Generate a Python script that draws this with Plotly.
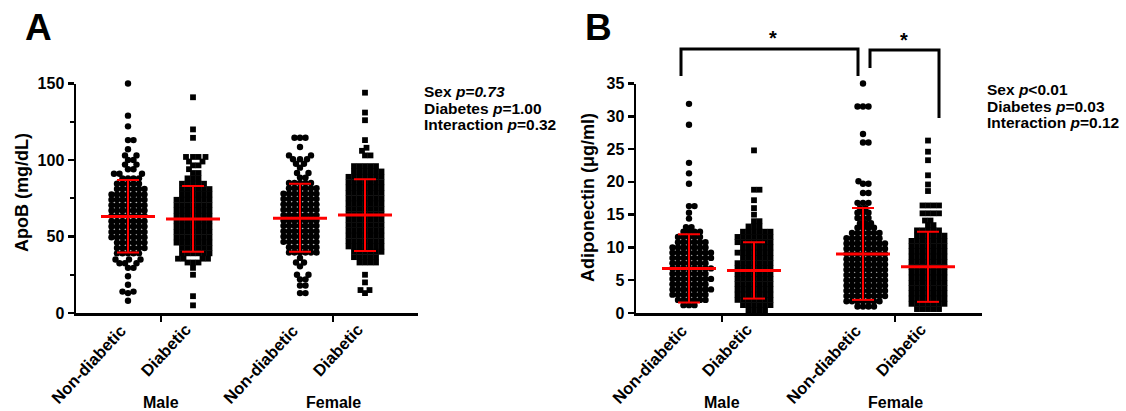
import plotly.graph_objects as go

W, H = 1126, 411
FONT = "Liberation Sans, Arial, sans-serif"

# ------------------------------------------------------------------ data
subgroups = ["Non-diabetic", "Diabetic", "Non-diabetic", "Diabetic"]
sexes = ["Male", "Female"]

# Panel A: ApoB (mg/dL) -- values (levels) and number of subjects at each level
apob_m_nd_levels = [150, 129, 122, 113, 107, 103, 100, 97, 94, 91, 88, 84.5, 81, 77.5, 74, 70.5, 67, 63.5, 60, 56.5,
                    53, 49.5, 46, 42.5, 39, 35, 32.5, 29.5, 24, 18.5, 14, 13, 8]
apob_m_nd_counts = [1, 1, 1, 2, 1, 2, 2, 2, 2, 3, 4, 5, 6, 7, 7, 7, 7, 7, 7, 7,
                    7, 7, 6, 6, 5, 3, 3, 2, 1, 1, 2, 1, 1]
apob_m_d_levels = [141, 120, 114.5, 102, 99, 96.5, 94, 91.5, 88, 84.5, 81, 77.5, 74, 70.5, 67, 63.5, 60, 56.5, 53, 49.5,
                   46, 42.5, 39, 35.5, 33, 29.5, 25, 11, 5]
apob_m_d_counts = [1, 1, 1, 4, 2, 2, 1, 2, 3, 5, 6, 6, 7, 7, 7, 7, 7, 7, 7, 7,
                   7, 6, 6, 4, 3, 1, 1, 1, 1]
apob_f_nd_levels = [114.5, 108.5, 103, 100.5, 97.5, 95, 91.5, 88.5, 85, 81.5, 78, 74.5, 71, 67.5, 64, 60.5, 57, 53.5, 50, 46.5,
                    43, 39.5, 36, 33, 30.5, 25, 22, 18, 13]
apob_f_nd_counts = [3, 1, 2, 3, 2, 1, 2, 2, 5, 6, 7, 7, 7, 7, 7, 7, 7, 7, 7, 7,
                    6, 6, 1, 2, 1, 2, 2, 2, 2]
apob_f_d_levels = [144, 131, 126, 113, 108, 106, 103, 96, 92.5, 89, 85.5, 82, 78.5, 75, 71.5, 68, 64.5, 61, 57.5, 54,
                   50.5, 47, 43.5, 40, 36.5, 33, 25, 20, 15, 13]
apob_f_d_counts = [1, 1, 1, 1, 1, 1, 2, 5, 6, 7, 7, 7, 7, 7, 7, 7, 7, 7, 7, 7,
                   7, 7, 7, 6, 5, 4, 1, 1, 2, 1]
apob_mean = [63, 61.5, 62, 64]
apob_sd_low = [39.5, 40, 40, 40.5]
apob_sd_high = [87, 83, 84.5, 87.5]

# Panel B: Adiponectin (ug/ml)
adipo_m_nd_levels = [31.9, 28.7, 22.9, 21.3, 19.7, 16.3, 15.3, 14.4, 13.1, 12.4, 11.6, 10.8, 10.0, 9.2, 8.4, 7.6, 6.8, 6.0,
                     5.2, 4.4, 3.6, 2.8, 2.0, 1.2]
adipo_m_nd_counts = [1, 1, 1, 1, 1, 2, 1, 1, 2, 4, 5, 6, 7, 8, 8, 7, 8, 7,
                     8, 7, 8, 7, 6, 3]
adipo_m_d_levels = [24.8, 18.8, 17.2, 16.0, 15.0, 14.0, 13.2, 12.4, 11.6, 10.8, 10.0, 9.2, 8.4, 7.6, 6.8, 6.0, 5.2, 4.4,
                    3.6, 2.8, 2.0, 1.2, 0.4]
adipo_m_d_counts = [1, 2, 1, 1, 1, 2, 3, 6, 7, 7, 6, 7, 6, 7, 7, 7, 7, 7,
                    7, 7, 7, 6, 4]
adipo_f_nd_levels = [35, 31.5, 27.3, 26, 20.1, 19.7, 18.3, 16.8, 16.0, 15.3, 14.5, 13.7, 13.0, 12.2, 11.4, 10.6, 9.8, 9.0,
                     8.2, 7.4, 6.6, 5.8, 5.0, 4.2, 3.4, 2.6, 1.8, 1.0]
adipo_f_nd_counts = [1, 3, 1, 2, 1, 2, 2, 3, 2, 3, 3, 3, 4, 6, 7, 8, 8, 8,
                     8, 8, 8, 8, 8, 8, 8, 8, 7, 4]
adipo_f_d_levels = [26.3, 24.6, 23.3, 21.0, 19.6, 18.6, 16.4, 15.2, 14.1, 13.4, 12.6, 11.8, 11.0, 10.2, 9.4, 8.6, 7.8, 7.0,
                    6.2, 5.4, 4.6, 3.8, 3.0, 2.2, 1.4, 0.6]
adipo_f_d_counts = [1, 1, 1, 1, 1, 1, 4, 4, 2, 2, 5, 6, 7, 7, 7, 7, 7, 7,
                    7, 7, 7, 7, 7, 7, 7, 5]
adipo_mean = [6.8, 6.5, 9.0, 7.05]
adipo_sd_low = [1.6, 2.2, 2.0, 1.7]
adipo_sd_high = [12.0, 10.8, 16.0, 12.4]

pvals_a = ["Sex <i>p=0.73</i>", "Diabetes <i>p</i>=1.00", "Interaction <i>p</i>=0.32"]
pvals_b = ["Sex <i>p</i>&lt;0.01", "Diabetes <i>p</i>=0.03", "Interaction <i>p</i>=0.12"]

# ------------------------------------------------------------------ layout constants (pixels)
A_X0, A_X1 = 76, 418
B_X0, B_X1 = 636, 982
Y_BOT, Y_TOP = 313, 83.5
A_POS = [52, 117, 224, 289]      # group centres, x-units = px from axis start
B_POS = [53, 118, 227, 292]
A_TICKS = [85, 257]
B_TICKS = [86, 259]
A_PXU = (Y_BOT - Y_TOP) / 150.0
B_PXU = (Y_BOT - Y_TOP) / 35.0


def expand(levels, counts):
    vals = []
    for v, n in zip(levels, counts):
        vals += [v] * n
    return vals


def swarm(values, center, pxu, d):
    """greedy beeswarm: offsets in px (x-units are px)"""
    order = sorted(range(len(values)), key=lambda i: values[i])
    placed = []
    xs = [0.0] * len(values)
    cands = [0.0]
    k = 1
    while k < 200:
        cands += [k * 0.5, -k * 0.5]
        k += 1
    for i in order:
        y = values[i] * pxu
        for c in cands:
            ok = True
            for (px_, py_) in placed:
                if abs(py_ - y) < d and (px_ - c) ** 2 + (py_ - y) ** 2 < d * d:
                    ok = False
                    break
            if ok:
                xs[i] = center + c
                placed.append((c, y))
                break
    return xs


fig = go.Figure()

panels = [
    ("x", "y", A_POS, A_PXU, [
        (apob_m_nd_levels, apob_m_nd_counts, "circle"),
        (apob_m_d_levels, apob_m_d_counts, "square"),
        (apob_f_nd_levels, apob_f_nd_counts, "circle"),
        (apob_f_d_levels, apob_f_d_counts, "square")],
     apob_mean, apob_sd_low, apob_sd_high, 5.3),
    ("x2", "y2", B_POS, B_PXU, [
        (adipo_m_nd_levels, adipo_m_nd_counts, "circle"),
        (adipo_m_d_levels, adipo_m_d_counts, "square"),
        (adipo_f_nd_levels, adipo_f_nd_counts, "circle"),
        (adipo_f_d_levels, adipo_f_d_counts, "square")],
     adipo_mean, adipo_sd_low, adipo_sd_high, 5.2),
]

for xa, ya, pos, pxu, grps, means, lo, hi, dd in panels:
    for (lv, ct, sym), c in zip(grps, pos):
        vals = expand(lv, ct)
        xs = swarm(vals, c, pxu, dd)
        fig.add_trace(go.Scatter(
            x=xs, y=vals, mode="markers", xaxis=xa, yaxis=ya, cliponaxis=False,
            marker=dict(symbol=sym, size=6.4 if sym == "circle" else 5.8, color="black", line=dict(width=0)),
            showlegend=False, hoverinfo="y"))
    # mean lines
    mx, my = [], []
    for c, m in zip(pos, means):
        mx += [c - 27, c + 27, None]
        my += [m, m, None]
    fig.add_trace(go.Scatter(x=mx, y=my, mode="lines", xaxis=xa, yaxis=ya,
                             line=dict(color="#ff0000", width=3), showlegend=False, hoverinfo="skip"))
    # SD bars
    sx, sy = [], []
    for c, l, h in zip(pos, lo, hi):
        sx += [c, c, None, c - 11, c + 11, None, c - 11, c + 11, None]
        sy += [l, h, None, l, l, None, h, h, None]
    fig.add_trace(go.Scatter(x=sx, y=sy, mode="lines", xaxis=xa, yaxis=ya,
                             line=dict(color="#ff0000", width=2), showlegend=False, hoverinfo="skip"))

tickfont = dict(family=FONT, size=16, color="black", weight="bold")
ydom = [1 - Y_BOT / H, 1 - Y_TOP / H]

common_x = dict(showline=True, linewidth=2.5, linecolor="black", ticks="outside", ticklen=6, tickwidth=2.5,
                tickcolor="black", showticklabels=False, showgrid=False, zeroline=False, fixedrange=True,
                automargin=False)
common_y = dict(showline=True, linewidth=2.5, linecolor="black", ticks="outside", ticklen=6, tickwidth=2.5,
                tickcolor="black", showgrid=False, zeroline=False, tickfont=tickfont, fixedrange=True,
                automargin=False)

fig.update_layout(
    template="none",
    width=W, height=H, margin=dict(l=0, r=0, t=0, b=0, autoexpand=False),
    paper_bgcolor="white", plot_bgcolor="white", showlegend=False,
    xaxis=dict(domain=[A_X0 / W, A_X1 / W], range=[0, A_X1 - A_X0], tickvals=A_TICKS, anchor="y", **common_x),
    yaxis=dict(domain=ydom, range=[0, 150], tickvals=[0, 50, 100, 150], anchor="x",
               minor=dict(tickvals=[25, 75, 125], ticks="outside", ticklen=4, tickwidth=2, tickcolor="black"),
               **common_y),
    xaxis2=dict(domain=[B_X0 / W, B_X1 / W], range=[0, B_X1 - B_X0], tickvals=B_TICKS, anchor="y2", **common_x),
    yaxis2=dict(domain=ydom, range=[0, 35], tickvals=[0, 5, 10, 15, 20, 25, 30, 35], anchor="x2", **common_y),
)


def px(x):
    return x / W


def py(y):
    return 1 - y / H


ann = []
bold = dict(family=FONT, color="black", weight="bold")

# panel letters
ann.append(dict(x=px(38), y=py(27), xref="paper", yref="paper", text="A", showarrow=False,
                font=dict(size=37, **bold), xanchor="center", yanchor="middle"))
ann.append(dict(x=px(598), y=py(27), xref="paper", yref="paper", text="B", showarrow=False,
                font=dict(size=37, **bold), xanchor="center", yanchor="middle"))

# y-axis titles
ann.append(dict(x=px(22), y=py(193), xref="paper", yref="paper", text="ApoB (mg/dL)", textangle=-90,
                showarrow=False, font=dict(size=18, **bold), xanchor="center", yanchor="middle"))
ann.append(dict(x=px(588), y=py(198), xref="paper", yref="paper", text="Adiponectin (μg/ml)", textangle=-90,
                showarrow=False, font=dict(size=18, **bold), xanchor="center", yanchor="middle"))

# category labels (rotated) and sex labels
for xa, pos, ticks in (("x", A_POS, A_TICKS), ("x2", B_POS, B_TICKS)):
    for c, lab in zip(pos, subgroups):
        ann.append(dict(x=c + 4, y=py(318), xref=xa, yref="paper", text=lab, textangle=-47, showarrow=False,
                        font=dict(size=16.5, **bold), xanchor="right", yanchor="top"))
    for t, s in zip(ticks, sexes):
        ann.append(dict(x=t, y=py(402), xref=xa, yref="paper", text=s, showarrow=False,
                        font=dict(size=16, **bold), xanchor="center", yanchor="middle"))

# p-value text
for i, t in enumerate(pvals_a):
    ann.append(dict(x=px(422), y=py(91 + 17 * i), xref="paper", yref="paper", text=t, showarrow=False,
                    font=dict(size=15.5, **bold), xanchor="left", yanchor="middle"))
for i, t in enumerate(pvals_b):
    ann.append(dict(x=px(985), y=py(89 + 17 * i), xref="paper", yref="paper", text=t, showarrow=False,
                    font=dict(size=15.5, **bold), xanchor="left", yanchor="middle"))

# significance stars
ann.append(dict(x=px(773), y=py(38), xref="paper", yref="paper", text="*", showarrow=False,
                font=dict(size=20, **bold), xanchor="center", yanchor="middle"))
ann.append(dict(x=px(904), y=py(40), xref="paper", yref="paper", text="*", showarrow=False,
                font=dict(size=20, **bold), xanchor="center", yanchor="middle"))

fig.update_layout(annotations=ann)

# brackets
br = dict(color="black", width=3)
shapes = [
    dict(type="path", xref="paper", yref="paper",
         path=f"M {px(681)},{py(76)} L {px(681)},{py(49)} L {px(858)},{py(49)} L {px(858)},{py(76)}",
         line=br),
    dict(type="path", xref="paper", yref="paper",
         path=f"M {px(870)},{py(68)} L {px(870)},{py(50)} L {px(939)},{py(50)} L {px(939)},{py(118)}",
         line=br),
]
fig.update_layout(shapes=shapes)

fig.write_html("out.html", config={"displayModeBar": False, "staticPlot": True},
               post_script="document.body.style.margin='0';document.body.style.overflow='hidden';")
